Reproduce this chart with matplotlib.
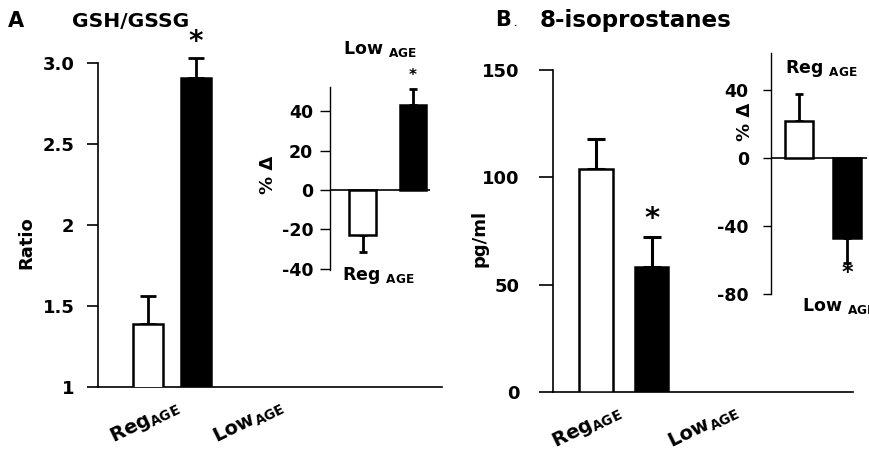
import matplotlib
matplotlib.use("Agg")
import matplotlib.pyplot as plt

plt.rcParams['font.family'] = ['DejaVu Sans']
plt.rcParams['font.weight'] = 'bold'
plt.rcParams['mathtext.fontset'] = 'custom'
plt.rcParams['mathtext.rm'] = 'DejaVu Sans:bold'
plt.rcParams['mathtext.bf'] = 'DejaVu Sans:bold'
plt.rcParams['mathtext.it'] = 'DejaVu Sans:bold'

# ---------------- data ----------------
groups = ['Reg', 'Low']
group_labels = [r'Reg$_{\rm AGE}$', r'Low$_{\rm AGE}$']
bar_colors = ['white', 'black']

a_ratio = [1.39, 2.91]
a_ratio_err = [0.17, 0.12]
a_ticks = [1, 1.5, 2, 2.5, 3.0]
a_ticklabels = ['1', '1.5', '2', '2.5', '3.0']

a_pct = [-23, 43]
a_pct_err = [8.5, 8.5]
a_pct_ticks = [-40, -20, 0, 20, 40]

b_pg = [104, 58]
b_pg_err = [14, 14]
b_ticks = [0, 50, 100, 150]

b_pct = [22, -47]
b_pct_err = [16, 15]
b_pct_ticks = [-80, -40, 0, 40]

W, H = 870, 453
fig = plt.figure(figsize=(W / 100, H / 100), dpi=100)


def frac(x0, y0, x1, y1):
    return [x0 / W, 1 - y1 / H, (x1 - x0) / W, (y1 - y0) / H]


def draw_bars(ax, vals, errs, width, lw, elw, cap):
    pos = list(range(len(vals)))
    for p, v, e in zip(pos, vals, errs):
        lo = e if v < 0 else 0
        hi = 0 if v < 0 else e
        eb = ax.errorbar([p], [v], yerr=[[lo], [hi]], fmt='none', ecolor='black',
                         elinewidth=elw, capsize=cap, capthick=elw, zorder=2)
        for art in eb.lines[1] + eb.lines[2]:
            art.set_clip_on(False)
    ax.bar(pos, vals, width=width, color=bar_colors, edgecolor='black',
           linewidth=lw, zorder=3)
    return pos


def star(ax, x, y, size, dy_pt):
    ax.annotate('*', xy=(x, y), xytext=(0, dy_pt), textcoords='offset points',
                fontsize=size, ha='center', va='baseline', annotation_clip=False)


def style_main(ax):
    for s in ['top', 'right']:
        ax.spines[s].set_visible(False)
    for s in ['left', 'bottom']:
        ax.spines[s].set_linewidth(1.2)
    ax.tick_params(axis='x', length=0)
    ax.patch.set_alpha(0)


# ---------------- Panel A main ----------------
axA = fig.add_axes(frac(98, 63, 442, 387))
posA = draw_bars(axA, a_ratio, a_ratio_err, 0.625, 1.8, 2.0, 5.5)
axA.set_xlim(-1.04, 6.125)
axA.set_ylim(1, 3.0)
axA.set_yticks(a_ticks, a_ticklabels, fontsize=13)
axA.tick_params(axis='y', length=8, width=1.2, pad=9)
style_main(axA)
axA.set_xticks([0.53, 2.71], group_labels, fontsize=14, rotation=26,
               ha='right', va='top', rotation_mode='anchor')
axA.tick_params(axis='x', pad=6)
star(axA, posA[1], a_ratio[1] + a_ratio_err[1], 20, 5.8)

# ---------------- Panel A inset ----------------
axAi = fig.add_axes(frac(330, 87, 430, 270))
posAi = draw_bars(axAi, a_pct, a_pct_err, 0.52, 1.8, 2.0, 3.0)
axAi.set_xlim(-0.644, 1.337)
axAi.set_ylim(-40.7, 52.4)
axAi.axhline(0, color='black', lw=1.2, zorder=1)
axAi.set_yticks(a_pct_ticks, [str(t) for t in a_pct_ticks], fontsize=12.5)
axAi.tick_params(axis='y', length=7, width=1.0, pad=5)
axAi.set_xticks([])
for s in ['top', 'right', 'bottom']:
    axAi.spines[s].set_visible(False)
axAi.spines['left'].set_linewidth(1.0)
axAi.patch.set_alpha(0)
star(axAi, posAi[1], a_pct[1] + a_pct_err[1], 11, 6)

# ---------------- Panel B main ----------------
axB = fig.add_axes(frac(553, 70, 853, 392))
posB = draw_bars(axB, b_pg, b_pg_err, 0.61, 1.8, 2.2, 6.8)
axB.set_xlim(-0.775, 4.63)
axB.set_ylim(0, 150)
axB.set_yticks(b_ticks, [str(t) for t in b_ticks], fontsize=13)
axB.tick_params(axis='y', length=10, width=1.2, pad=14)
style_main(axB)
axB.set_xticks([0.34, 2.47], group_labels, fontsize=14, rotation=26,
               ha='right', va='top', rotation_mode='anchor')
axB.tick_params(axis='x', pad=6)
star(axB, posB[1], b_pg[1] + b_pg_err[1], 21, 7.5)

# ---------------- Panel B inset ----------------
axBi = fig.add_axes(frac(771, 53, 867, 294))
posBi = draw_bars(axBi, b_pct, b_pct_err, 0.58, 1.8, 2.0, 3.0)
axBi.set_xlim(-0.583, 1.417)
axBi.set_ylim(-80, 62)
axBi.axhline(0, color='black', lw=1.2, zorder=1)
axBi.set_yticks(b_pct_ticks, [str(t) for t in b_pct_ticks], fontsize=12.5)
axBi.tick_params(axis='y', length=6, width=1.0, pad=10)
axBi.set_xticks([])
for s in ['top', 'right', 'bottom']:
    axBi.spines[s].set_visible(False)
axBi.spines['left'].set_linewidth(1.0)
axBi.patch.set_alpha(0)
star(axBi, posBi[1], b_pct[1] - b_pct_err[1], 16, -11.5)

# ---------------- texts ----------------
fig.text(8 / W, 1 - 27 / H, 'A', fontsize=15, ha='left', va='baseline')
fig.text(72 / W, 1 - 27 / H, 'GSH/GSSG', fontsize=14.6, ha='left', va='baseline')
fig.text(495 / W, 1 - 26 / H, 'B', fontsize=15, ha='left', va='baseline')
fig.text(513 / W, 1 - 26 / H, '.', fontsize=6, ha='left', va='baseline')
fig.text(540 / W, 1 - 27 / H, '8-isoprostanes', fontsize=16.6, ha='left', va='baseline')

fig.text(26 / W, 1 - 243 / H, 'Ratio', fontsize=13, rotation=90,
         ha='center', va='center')
fig.text(480 / W, 1 - 238 / H, 'pg/ml', fontsize=13, rotation=90,
         ha='center', va='center')
fig.text(268 / W, 1 - 175 / H, '% Δ', fontsize=13, rotation=90,
         ha='center', va='center')
fig.text(745 / W, 1 - 122 / H, '% Δ', fontsize=13, rotation=90,
         ha='center', va='center')

fig.text(343 / W, 1 - 54 / H, r'Low $_{\rm AGE}$', fontsize=12.5, ha='left', va='baseline')
fig.text(342 / W, 1 - 280 / H, r'Reg $_{\rm AGE}$', fontsize=12.5, ha='left', va='baseline')
fig.text(785 / W, 1 - 73 / H, r'Reg $_{\rm AGE}$', fontsize=12.5, ha='left', va='baseline')
fig.text(802 / W, 1 - 311 / H, r'Low $_{\rm AGE}$', fontsize=12.5, ha='left', va='baseline')

fig.savefig('out.png', dpi=100)
